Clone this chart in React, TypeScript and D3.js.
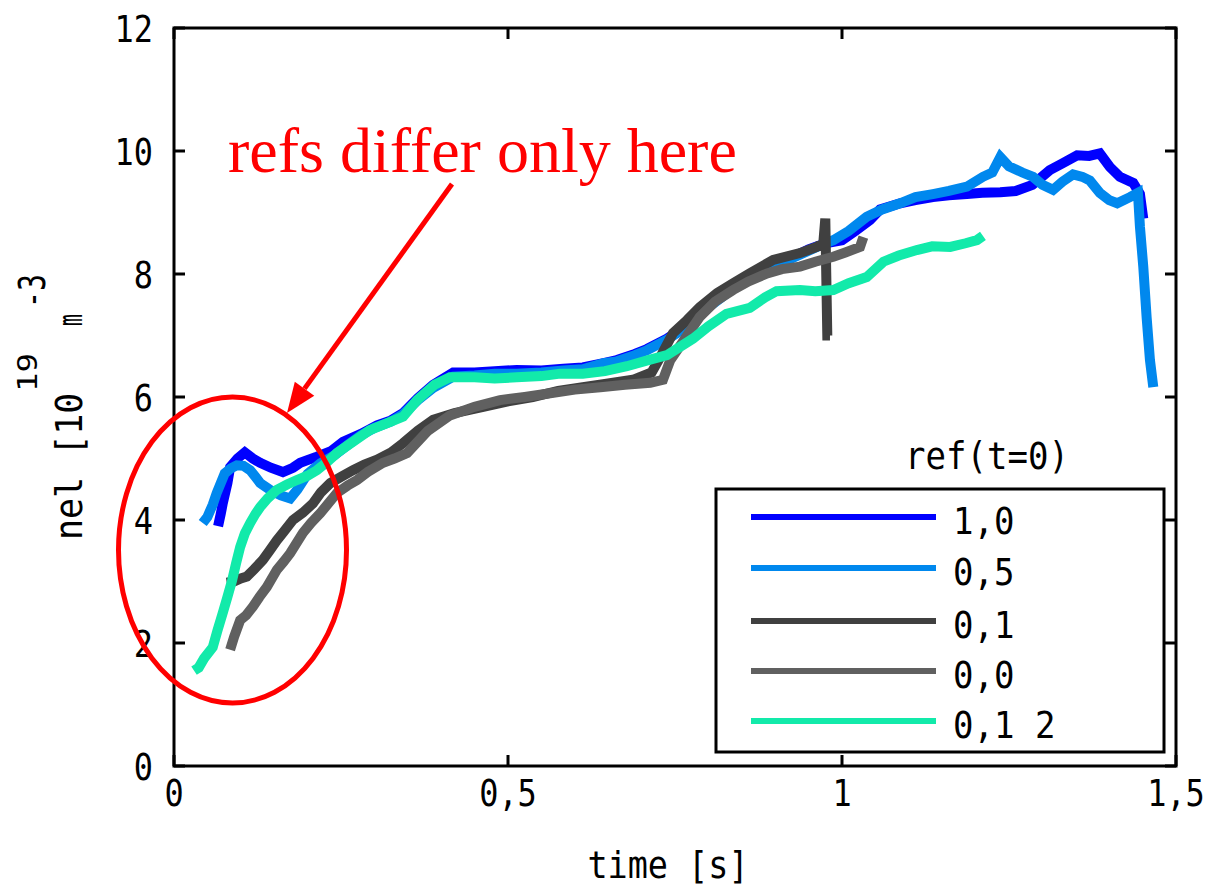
import * as React from 'react'
import {scaleLinear, line} from 'd3'

// ref(t=0) series, [time s, nel 1e19 m^-3]
const ref10 = [
  [0.066, 3.9], [0.07, 4.1], [0.073, 4.27], [0.08, 4.6], [0.084, 4.86], [0.095, 5.0], [0.106, 5.1],
  [0.118, 5.0], [0.129, 4.93], [0.145, 4.85], [0.163, 4.78], [0.178, 4.85], [0.189, 4.93], [0.214, 5.03],
  [0.235, 5.12], [0.253, 5.27], [0.28, 5.4], [0.304, 5.54], [0.325, 5.62], [0.343, 5.74], [0.365, 5.98],
  [0.388, 6.2], [0.418, 6.4], [0.45, 6.4], [0.48, 6.42], [0.513, 6.44], [0.55, 6.43], [0.583, 6.46],
  [0.612, 6.48], [0.643, 6.55], [0.663, 6.6], [0.69, 6.7], [0.708, 6.78], [0.738, 6.95], [0.753, 7.06],
  [0.762, 7.1], [0.79, 7.4], [0.82, 7.65], [0.85, 7.9], [0.88, 8.05], [0.918, 8.23], [0.95, 8.4],
  [0.975, 8.5], [1.0, 8.55], [1.02, 8.7], [1.042, 8.88], [1.057, 9.05], [1.087, 9.15], [1.11, 9.2],
  [1.136, 9.25], [1.16, 9.28], [1.187, 9.3], [1.21, 9.32], [1.237, 9.33], [1.26, 9.35], [1.285, 9.45],
  [1.311, 9.69], [1.33, 9.8], [1.352, 9.93], [1.37, 9.92], [1.386, 9.96], [1.401, 9.74], [1.416, 9.58],
  [1.436, 9.48], [1.446, 9.3], [1.451, 8.9],
]
const ref05 = [
  [0.043, 3.95], [0.05, 4.05], [0.058, 4.25], [0.064, 4.44], [0.07, 4.6], [0.076, 4.76], [0.085, 4.84],
  [0.094, 4.89], [0.104, 4.88], [0.114, 4.81], [0.122, 4.7], [0.129, 4.6], [0.144, 4.49], [0.16, 4.4],
  [0.174, 4.35], [0.185, 4.5], [0.2, 4.75], [0.219, 4.92], [0.24, 5.05], [0.26, 5.22], [0.28, 5.38],
  [0.3, 5.5], [0.325, 5.6], [0.343, 5.72], [0.365, 5.95], [0.388, 6.15], [0.418, 6.33], [0.45, 6.35],
  [0.48, 6.38], [0.513, 6.38], [0.55, 6.4], [0.583, 6.43], [0.612, 6.45], [0.643, 6.55], [0.663, 6.58],
  [0.69, 6.68], [0.708, 6.76], [0.738, 6.93], [0.753, 7.04], [0.762, 7.1], [0.79, 7.38], [0.82, 7.62],
  [0.85, 7.88], [0.88, 8.05], [0.918, 8.22], [0.95, 8.38], [0.975, 8.5], [0.987, 8.55], [1.01, 8.7],
  [1.037, 8.93], [1.06, 9.05], [1.087, 9.15], [1.11, 9.25], [1.136, 9.3], [1.16, 9.35], [1.187, 9.42],
  [1.211, 9.58], [1.225, 9.65], [1.237, 9.9], [1.25, 9.75], [1.27, 9.65], [1.286, 9.58], [1.3, 9.45],
  [1.316, 9.37], [1.33, 9.5], [1.346, 9.62], [1.36, 9.58], [1.371, 9.52], [1.386, 9.32], [1.4, 9.2],
  [1.412, 9.15], [1.431, 9.25], [1.443, 9.32], [1.446, 8.77], [1.451, 8.12], [1.456, 7.3], [1.461, 6.6],
  [1.466, 6.16],
]
const ref01 = [
  [0.079, 2.98], [0.09, 3.0], [0.1, 3.05], [0.109, 3.08], [0.12, 3.2], [0.133, 3.35], [0.143, 3.5],
  [0.154, 3.67], [0.165, 3.82], [0.178, 4.0], [0.193, 4.12], [0.208, 4.27], [0.22, 4.45], [0.234, 4.6],
  [0.25, 4.7], [0.268, 4.81], [0.285, 4.9], [0.304, 4.98], [0.325, 5.1], [0.343, 5.25], [0.365, 5.45],
  [0.388, 5.63], [0.42, 5.74], [0.463, 5.84], [0.5, 5.93], [0.537, 6.0], [0.575, 6.1], [0.612, 6.16],
  [0.65, 6.22], [0.687, 6.28], [0.715, 6.4], [0.728, 6.65], [0.747, 7.04], [0.768, 7.25], [0.787, 7.46],
  [0.813, 7.69], [0.837, 7.85], [0.862, 8.01], [0.897, 8.23], [0.937, 8.34], [0.962, 8.44], [0.972, 8.5],
  [0.975, 8.9], [0.978, 7.0], [0.982, 7.0],
]
const ref00 = [
  [0.084, 1.89], [0.09, 2.1], [0.099, 2.37], [0.108, 2.45], [0.118, 2.59], [0.128, 2.75], [0.139, 2.91],
  [0.154, 3.19], [0.164, 3.32], [0.174, 3.46], [0.193, 3.79], [0.205, 3.95], [0.219, 4.11], [0.244, 4.44],
  [0.26, 4.56], [0.274, 4.65], [0.29, 4.78], [0.313, 4.93], [0.33, 5.0], [0.349, 5.09], [0.38, 5.45],
  [0.413, 5.7], [0.45, 5.84], [0.488, 5.95], [0.525, 6.0], [0.563, 6.06], [0.6, 6.12], [0.638, 6.16],
  [0.675, 6.2], [0.713, 6.23], [0.732, 6.28], [0.743, 6.6], [0.765, 6.95], [0.787, 7.3], [0.81, 7.55],
  [0.837, 7.74], [0.86, 7.88], [0.888, 8.01], [0.91, 8.08], [0.937, 8.12], [0.96, 8.2], [0.987, 8.28],
  [1.005, 8.35], [1.027, 8.44], [1.032, 8.6],
]
const ref012 = [
  [0.03, 1.55], [0.037, 1.6], [0.045, 1.75], [0.058, 1.93], [0.065, 2.2], [0.073, 2.49], [0.08, 2.75],
  [0.087, 3.02], [0.093, 3.3], [0.099, 3.56], [0.106, 3.78], [0.114, 3.95], [0.122, 4.1], [0.129, 4.21],
  [0.14, 4.35], [0.154, 4.49], [0.17, 4.58], [0.184, 4.65], [0.2, 4.72], [0.214, 4.81], [0.23, 4.95],
  [0.244, 5.09], [0.265, 5.25], [0.293, 5.46], [0.32, 5.58], [0.343, 5.68], [0.364, 5.95], [0.39, 6.2],
  [0.413, 6.32], [0.45, 6.32], [0.48, 6.3], [0.513, 6.32], [0.55, 6.34], [0.578, 6.38], [0.612, 6.38],
  [0.645, 6.42], [0.678, 6.5], [0.71, 6.6], [0.738, 6.68], [0.777, 6.95], [0.8, 7.15], [0.827, 7.35],
  [0.862, 7.45], [0.885, 7.62], [0.902, 7.72], [0.937, 7.74], [0.96, 7.72], [0.987, 7.74], [1.01, 7.85],
  [1.037, 7.95], [1.062, 8.2], [1.085, 8.3], [1.112, 8.39], [1.135, 8.45], [1.162, 8.44], [1.185, 8.5],
  [1.202, 8.55], [1.211, 8.62],
]

const seriesNames = ['1,0', '0,5', '0,1', '0,0', '0,1 2']
const seriesData = [ref10, ref05, ref01, ref00, ref012]
const seriesColors = ['#0000ff', '#0088ee', '#404040', '#606060', '#12eaaa']

const xTicks = [0, 0.5, 1, 1.5]
const xTickLabels = ['0', '0,5', '1', '1,5']
const yTicks = [0, 2, 4, 6, 8, 10, 12]

const MONO = '"DejaVu Sans Mono", monospace'

function GText({x, y, size = 37, sx = 0.88, anchor = 'start', children, fill = '#000'}) {
  return (
    <text transform={`translate(${x},${y}) scale(${sx},1)`} textAnchor={anchor}
      fontFamily={MONO} fontSize={size} fill={fill}>{children}</text>
  )
}

export default function App() {
  const left = 174, right = 1176, top = 28, bottom = 766
  const x = scaleLinear().domain([0, 1.5]).range([left, right])
  const y = scaleLinear().domain([0, 12]).range([bottom, top])
  const path = line().x(d => x(d[0])).y(d => y(d[1]))
  const tl = 11

  // arrow annotation
  const a0 = [452, 184], a1 = [287, 413]
  const dx = a1[0] - a0[0], dy = a1[1] - a0[1]
  const len = Math.hypot(dx, dy)
  const ux = dx / len, uy = dy / len
  const hl = 30, hw = 12
  const bx = a1[0] - ux * hl, by = a1[1] - uy * hl
  const head = `M${a1[0]},${a1[1]}L${bx - uy * hw},${by + ux * hw}L${bx + uy * hw},${by - ux * hw}Z`

  const legX0 = 716, legY0 = 489, legX1 = 1164, legY1 = 752
  const legRowY = [517, 568, 621, 671, 721]

  return (
    <svg width={1209} height={888} style={{position: 'absolute', left: 0, top: 0, background: '#fff'}}>
      {/* data */}
      {seriesData.map((d, i) => (
        <path key={i} d={path(d)} fill="none" stroke={seriesColors[i]} strokeWidth={10}
          strokeLinejoin="miter" strokeMiterlimit={2} />
      ))}

      {/* frame & ticks */}
      <rect x={left} y={top} width={right - left} height={bottom - top} fill="none" stroke="#000" strokeWidth={3} />
      {yTicks.map(t => (
        <g key={'y' + t}>
          <line x1={left} x2={left + tl} y1={y(t)} y2={y(t)} stroke="#000" strokeWidth={3} />
          <line x1={right - tl} x2={right} y1={y(t)} y2={y(t)} stroke="#000" strokeWidth={3} />
          <GText x={153} y={y(t) + 14} anchor="end" size={38} sx={0.84}>{t}</GText>
        </g>
      ))}
      {xTicks.map((t, i) => (
        <g key={'x' + t}>
          <line x1={x(t)} x2={x(t)} y1={bottom} y2={bottom - tl} stroke="#000" strokeWidth={3} />
          <line x1={x(t)} x2={x(t)} y1={top} y2={top + tl} stroke="#000" strokeWidth={3} />
          <GText x={x(t)} y={806} anchor="middle" size={38} sx={0.84}>{xTickLabels[i]}</GText>
        </g>
      ))}

      {/* axis titles */}
      <GText x={668} y={878} anchor="middle" size={38} sx={0.88}>time [s]</GText>
      <g transform="translate(82,540) rotate(-90)">
        <GText x={0} y={0} size={38} sx={0.92}>nel [10</GText>
        <GText x={148} y={-45} size={26} sx={1.25}>19</GText>
        <GText x={214} y={0} size={33} sx={0.6}>m</GText>
        <GText x={232} y={-37} size={38} sx={0.74}>-3</GText>
      </g>

      {/* legend */}
      <GText x={987} y={469} anchor="middle" size={37} sx={0.92}>ref(t=0)</GText>
      <rect x={legX0} y={legY0} width={legX1 - legX0} height={legY1 - legY0} fill="#fff" stroke="#000" strokeWidth={3} />
      {seriesNames.map((n, i) => (
        <g key={n}>
          <line x1={751} x2={936} y1={legRowY[i]} y2={legRowY[i]} stroke={seriesColors[i]} strokeWidth={6} />
          <GText x={953} y={legRowY[i] + 17} size={37} sx={0.92}>{n}</GText>
        </g>
      ))}

      {/* annotation */}
      <ellipse cx={232.5} cy={550} rx={114} ry={153} fill="none" stroke="#ff0000" strokeWidth={5} />
      <line x1={a0[0]} y1={a0[1]} x2={bx} y2={by} stroke="#ff0000" strokeWidth={5} />
      <path d={head} fill="#ff0000" />
      <text x={228} y={172} fontFamily='"Liberation Serif", "Times New Roman", serif' fontSize={64} fill="#ff0000">
        refs differ only here
      </text>
    </svg>
  )
}
